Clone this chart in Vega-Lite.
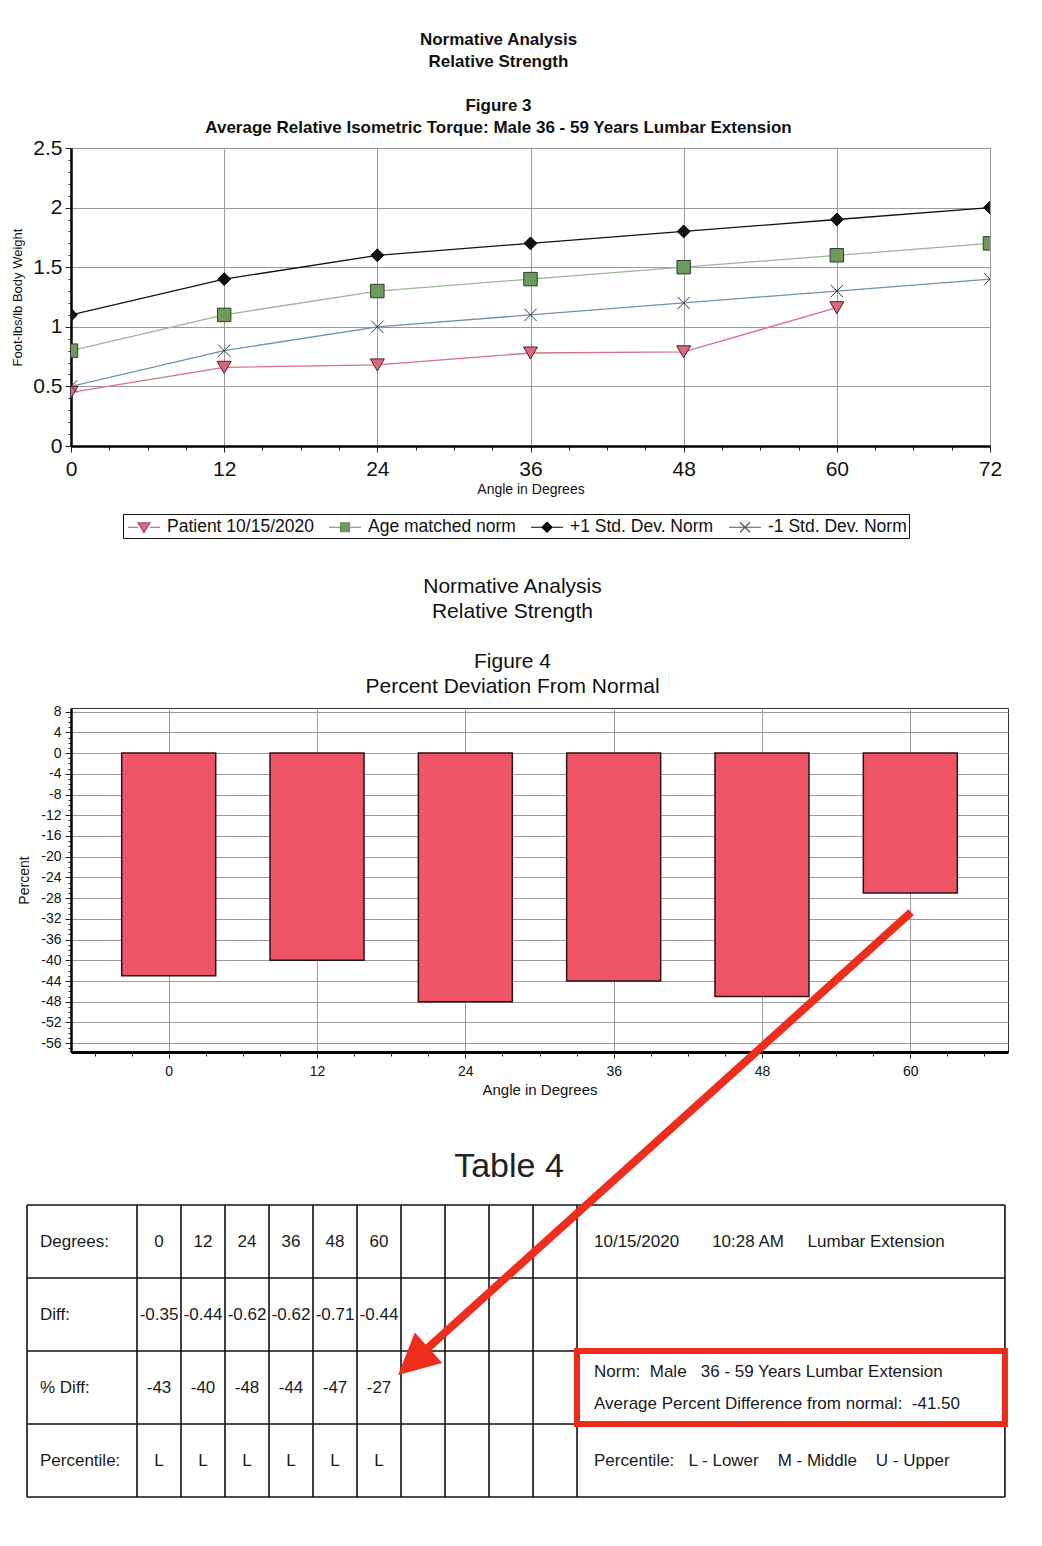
{
  "$schema": "https://vega.github.io/schema/vega-lite/v6.json",
  "background": "white",
  "padding": {"left": 11, "top": 30, "right": 0, "bottom": 0},
  "config": {
    "font": "Liberation Sans",
    "view": {"stroke": null},
    "axis": {"labelFont": "Liberation Sans", "titleFont": "Liberation Sans", "labelColor": "#111", "titleColor": "#111", "tickColor": "#222", "gridColor": "#9a9a9a", "domainColor": "#000", "labelFlush": false, "labelOverlap": false, "titleFontWeight": "normal"},
    "title": {"font": "Liberation Sans", "subtitleFont": "Liberation Sans", "color": "#111", "subtitleColor": "#111"},
    "legend": {"labelFont": "Liberation Sans"}
  },
  "datasets": {
    "torque": [
      {"angle": 0, "series": "Patient 10/15/2020", "value": 0.45},
      {"angle": 12, "series": "Patient 10/15/2020", "value": 0.66},
      {"angle": 24, "series": "Patient 10/15/2020", "value": 0.68},
      {"angle": 36, "series": "Patient 10/15/2020", "value": 0.78},
      {"angle": 48, "series": "Patient 10/15/2020", "value": 0.79},
      {"angle": 60, "series": "Patient 10/15/2020", "value": 1.16},
      {"angle": 0, "series": "Age matched norm", "value": 0.8},
      {"angle": 12, "series": "Age matched norm", "value": 1.1},
      {"angle": 24, "series": "Age matched norm", "value": 1.3},
      {"angle": 36, "series": "Age matched norm", "value": 1.4},
      {"angle": 48, "series": "Age matched norm", "value": 1.5},
      {"angle": 60, "series": "Age matched norm", "value": 1.6},
      {"angle": 72, "series": "Age matched norm", "value": 1.7},
      {"angle": 0, "series": "+1 Std. Dev. Norm", "value": 1.1},
      {"angle": 12, "series": "+1 Std. Dev. Norm", "value": 1.4},
      {"angle": 24, "series": "+1 Std. Dev. Norm", "value": 1.6},
      {"angle": 36, "series": "+1 Std. Dev. Norm", "value": 1.7},
      {"angle": 48, "series": "+1 Std. Dev. Norm", "value": 1.8},
      {"angle": 60, "series": "+1 Std. Dev. Norm", "value": 1.9},
      {"angle": 72, "series": "+1 Std. Dev. Norm", "value": 2.0},
      {"angle": 0, "series": "-1 Std. Dev. Norm", "value": 0.5},
      {"angle": 12, "series": "-1 Std. Dev. Norm", "value": 0.8},
      {"angle": 24, "series": "-1 Std. Dev. Norm", "value": 1.0},
      {"angle": 36, "series": "-1 Std. Dev. Norm", "value": 1.1},
      {"angle": 48, "series": "-1 Std. Dev. Norm", "value": 1.2},
      {"angle": 60, "series": "-1 Std. Dev. Norm", "value": 1.3},
      {"angle": 72, "series": "-1 Std. Dev. Norm", "value": 1.4}
    ],
    "deviation": [
      {"angle": 0, "diff": -0.35, "pct": -43, "pctl": "L"},
      {"angle": 12, "diff": -0.44, "pct": -40, "pctl": "L"},
      {"angle": 24, "diff": -0.62, "pct": -48, "pctl": "L"},
      {"angle": 36, "diff": -0.62, "pct": -44, "pctl": "L"},
      {"angle": 48, "diff": -0.71, "pct": -47, "pctl": "L"},
      {"angle": 60, "diff": -0.44, "pct": -27, "pctl": "L"}
    ],
    "table_rows": [
      {"row": "Degrees:"},
      {"row": "Diff:"},
      {"row": "% Diff:"},
      {"row": "Percentile:"}
    ],
    "table_edges": [
      {"edge": -30}, {"edge": 0}, {"edge": 12}, {"edge": 24}, {"edge": 36}, {"edge": 48},
      {"edge": 60}, {"edge": 72}, {"edge": 84}, {"edge": 96}, {"edge": 108}, {"edge": 120}, {"edge": 236.7}
    ],
    "info": [
      {"row": "Degrees:", "text": "10/15/2020\u00a0\u00a0\u00a0\u00a0\u00a0\u00a0\u00a010:28 AM\u00a0\u00a0\u00a0\u00a0\u00a0Lumbar Extension"},
      {"row": "Percentile:", "text": "Percentile:\u00a0\u00a0\u00a0L - Lower\u00a0\u00a0\u00a0\u00a0M - Middle\u00a0\u00a0\u00a0\u00a0U - Upper"}
    ],
    "norm_note": [
      {"row": "% Diff:", "text": ["Norm:\u00a0\u00a0Male\u00a0\u00a0\u00a036 - 59 Years Lumbar Extension", "Average Percent Difference from normal:\u00a0\u00a0-41.50"]}
    ]
  },
  "spacing": 0,
  "bounds": "flush",
  "vconcat": [
    {
      "width": 919,
      "height": 298,
      "view": {"stroke": "#333", "strokeWidth": 1},
      "title": {
        "text": ["Normative Analysis", "Relative Strength"],
        "subtitle": ["Figure 3", "Average Relative Isometric Torque:  Male 36 - 59 Years Lumbar Extension"],
        "fontSize": 17, "fontWeight": "bold", "lineHeight": 22,
        "subtitleFontSize": 17, "subtitleFontWeight": "bold", "subtitleLineHeight": 22, "subtitlePadding": 27,
        "offset": 0, "dx": -32
      },
      "data": {"name": "torque"},
      "encoding": {
        "x": {
          "field": "angle", "type": "quantitative", "title": "Angle in Degrees",
          "scale": {"domain": [0, 72], "nice": false, "zero": false},
          "axis": {
            "values": [0, 3, 6, 9, 12, 15, 18, 21, 24, 27, 30, 33, 36, 39, 42, 45, 48, 51, 54, 57, 60, 63, 66, 69, 72],
            "labelExpr": "datum.value % 12 === 0 ? datum.label : ''",
            "labelFontSize": 21, "labelPadding": 6,
            "tickSize": {"condition": {"test": "datum.value % 12 === 0", "value": 6}, "value": 4},
            "grid": true,
            "gridOpacity": {"condition": {"test": "datum.value % 12 === 0", "value": 1}, "value": 0},
            "domainWidth": 2.5, "titleFontSize": 14, "titlePadding": 3
          }
        },
        "y": {
          "field": "value", "type": "quantitative", "title": "Foot-lbs/lb Body Weight",
          "scale": {"domain": [0, 2.5], "nice": false},
          "axis": {
            "values": [0, 0.1, 0.2, 0.3, 0.4, 0.5, 0.6, 0.7, 0.8, 0.9, 1, 1.1, 1.2, 1.3, 1.4, 1.5, 1.6, 1.7, 1.8, 1.9, 2, 2.1, 2.2, 2.3, 2.4, 2.5],
            "labelExpr": "abs(datum.value * 2 - round(datum.value * 2)) < 0.001 ? format(datum.value, '~g') : ''",
            "labelFontSize": 21, "labelPadding": 3,
            "tickSize": {"condition": {"test": "abs(datum.value * 2 - round(datum.value * 2)) < 0.001", "value": 6}, "value": 3},
            "grid": true,
            "gridOpacity": {"condition": {"test": "abs(datum.value * 2 - round(datum.value * 2)) < 0.001", "value": 1}, "value": 0},
            "domainWidth": 2.5, "titleFontSize": 13, "titlePadding": 8
          }
        }
      },
      "resolve": {"scale": {"color": "independent", "shape": "independent", "fill": "independent", "stroke": "independent", "size": "independent"}},
      "layer": [
        {
          "mark": {"type": "line", "strokeWidth": 1.3, "clip": true},
          "encoding": {
            "color": {
              "field": "series", "type": "nominal", "legend": null,
              "scale": {
                "domain": ["Patient 10/15/2020", "Age matched norm", "+1 Std. Dev. Norm", "-1 Std. Dev. Norm"],
                "range": ["#d77085", "#9bb596", "#111111", "#7090b0"]
              }
            }
          }
        },
        {
          "mark": {"type": "point", "filled": true, "opacity": 1, "strokeWidth": 1, "clip": true},
          "encoding": {
            "shape": {
              "field": "series", "type": "nominal", "legend": null,
              "scale": {
                "domain": ["Patient 10/15/2020", "Age matched norm", "+1 Std. Dev. Norm", "-1 Std. Dev. Norm"],
                "range": ["triangle-down", "square", "diamond", "M-1,-1L1,1M-1,1L1,-1"]
              }
            },
            "fill": {
              "field": "series", "type": "nominal", "legend": null,
              "scale": {
                "domain": ["Patient 10/15/2020", "Age matched norm", "+1 Std. Dev. Norm", "-1 Std. Dev. Norm"],
                "range": ["#d86a80", "#6d9b5b", "#111111", "transparent"]
              }
            },
            "stroke": {
              "field": "series", "type": "nominal", "legend": null,
              "scale": {
                "domain": ["Patient 10/15/2020", "Age matched norm", "+1 Std. Dev. Norm", "-1 Std. Dev. Norm"],
                "range": ["#5d1d2b", "#2b3f26", "#000000", "#333333"]
              }
            },
            "size": {
              "field": "series", "type": "nominal", "legend": null,
              "scale": {
                "domain": ["Patient 10/15/2020", "Age matched norm", "+1 Std. Dev. Norm", "-1 Std. Dev. Norm"],
                "range": [196, 150, 144, 225]
              }
            }
          }
        },
        {
          "transform": [{"filter": "false"}],
          "mark": {"type": "point", "filled": true, "opacity": 1, "size": 400, "strokeWidth": 1.2},
          "encoding": {
            "shape": {
              "field": "series", "type": "nominal",
              "scale": {
                "domain": ["Patient 10/15/2020", "Age matched norm", "+1 Std. Dev. Norm", "-1 Std. Dev. Norm"],
                "range": ["M-0.8,0H0.2M1.4,0H2.4M0.2,-0.45L1.4,-0.45L0.8,0.55Z", "M-0.8,0H0.35M1.25,0H2.4M0.35,-0.45H1.25V0.45H0.35Z", "M-0.8,0H2.4M0.8,-0.5L1.3,0L0.8,0.5L0.3,0Z", "M-0.8,0H2.4M0.3,-0.5L1.3,0.5M0.3,0.5L1.3,-0.5"]
              },
              "legend": {
                "title": null, "orient": "none", "legendX": 52, "legendY": 366, "direction": "horizontal",
                "fillColor": "white", "strokeColor": "#111", "padding": 2,
                "symbolSize": 400, "symbolStrokeWidth": 1.2, "labelFontSize": 17.5, "labelOffset": 20,
                "columnPadding": 12, "labelColor": "#111", "labelLimit": 300
              }
            },
            "fill": {
              "field": "series", "type": "nominal",
              "scale": {
                "domain": ["Patient 10/15/2020", "Age matched norm", "+1 Std. Dev. Norm", "-1 Std. Dev. Norm"],
                "range": ["#d86a80", "#6d9b5b", "#111111", "transparent"]
              },
              "legend": {
                "title": null, "orient": "none", "legendX": 52, "legendY": 366, "direction": "horizontal",
                "fillColor": "white", "strokeColor": "#111", "padding": 2,
                "symbolSize": 400, "symbolStrokeWidth": 1.2, "labelFontSize": 17.5, "labelOffset": 20,
                "columnPadding": 12, "labelColor": "#111", "labelLimit": 300
              }
            },
            "stroke": {
              "field": "series", "type": "nominal",
              "scale": {
                "domain": ["Patient 10/15/2020", "Age matched norm", "+1 Std. Dev. Norm", "-1 Std. Dev. Norm"],
                "range": ["#a05566", "#6b8a66", "#000000", "#555555"]
              },
              "legend": {
                "title": null, "orient": "none", "legendX": 52, "legendY": 366, "direction": "horizontal",
                "fillColor": "white", "strokeColor": "#111", "padding": 2,
                "symbolSize": 400, "symbolStrokeWidth": 1.2, "labelFontSize": 17.5, "labelOffset": 20,
                "columnPadding": 12, "labelColor": "#111", "labelLimit": 300
              }
            }
          }
        }
      ]
    },
    {
      "width": 10,
      "height": 262,
      "data": {"values": []},
      "mark": "point",
      "encoding": {}
    },
    {
      "width": 937,
      "height": 344,
      "view": {"stroke": "#333", "strokeWidth": 1},
      "title": {
        "text": ["Normative Analysis", "Relative Strength"],
        "subtitle": ["Figure 4", "Percent Deviation From Normal"],
        "fontSize": 21, "fontWeight": "normal", "lineHeight": 25,
        "subtitleFontSize": 21, "subtitleFontWeight": "normal", "subtitleLineHeight": 25, "subtitlePadding": 29,
        "offset": 8, "dx": -27
      },
      "data": {"name": "deviation"},
      "mark": {"type": "bar", "width": 94, "fill": "#ef5567", "stroke": "#2a1515", "strokeWidth": 1.5},
      "encoding": {
        "x": {
          "field": "angle", "type": "quantitative", "title": "Angle in Degrees",
          "scale": {"domain": [-7.5, 67.5], "nice": false, "zero": false},
          "axis": {
            "values": [-6, -3, 0, 3, 6, 9, 12, 15, 18, 21, 24, 27, 30, 33, 36, 39, 42, 45, 48, 51, 54, 57, 60, 63, 66],
            "labelExpr": "datum.value % 12 === 0 ? datum.label : ''",
            "labelFontSize": 14, "labelPadding": 6,
            "tickSize": {"condition": {"test": "datum.value % 12 === 0", "value": 6}, "value": 4},
            "grid": true,
            "gridOpacity": {"condition": {"test": "datum.value % 12 === 0", "value": 1}, "value": 0},
            "domainWidth": 3, "titleFontSize": 15, "titlePadding": 4
          }
        },
        "y": {
          "field": "pct", "type": "quantitative", "title": "Percent",
          "scale": {"domain": [-57.7, 8.7], "nice": false},
          "axis": {
            "values": [-57, -56, -55, -54, -53, -52, -51, -50, -49, -48, -47, -46, -45, -44, -43, -42, -41, -40, -39, -38, -37, -36, -35, -34, -33, -32, -31, -30, -29, -28, -27, -26, -25, -24, -23, -22, -21, -20, -19, -18, -17, -16, -15, -14, -13, -12, -11, -10, -9, -8, -7, -6, -5, -4, -3, -2, -1, 0, 1, 2, 3, 4, 5, 6, 7, 8],
            "labelExpr": "datum.value % 4 === 0 ? '' + datum.value : ''",
            "labelFontSize": 14, "labelPadding": 4,
            "tickSize": {"condition": {"test": "datum.value % 4 === 0", "value": 6}, "value": 3},
            "grid": true,
            "gridOpacity": {"condition": {"test": "datum.value % 4 === 0", "value": 1}, "value": 0},
            "domainWidth": 2.5, "titleFontSize": 14, "titlePadding": 9
          }
        }
      }
    },
    {
      "width": 10,
      "height": 153,
      "data": {"values": []},
      "mark": "point",
      "encoding": {}
    },
    {
      "width": 876,
      "height": 292,
      "resolve": {"scale": {"y": "independent"}},
      "layer": [
        {
          "layer": [
            {
              "data": {"name": "table_edges"},
              "mark": {"type": "rule", "color": "#111", "strokeWidth": 1.6},
              "encoding": {
                "x": {"field": "edge", "type": "quantitative", "scale": {"domain": [-18, 220.9], "nice": false, "zero": false}, "axis": null}
              }
            },
            {
              "data": {"name": "table_rows"},
              "mark": {"type": "rule", "color": "#111", "strokeWidth": 1.6},
              "encoding": {
                "y": {"field": "row", "type": "nominal", "bandPosition": 0, "axis": null,
                      "scale": {"type": "band", "domain": ["Degrees:", "Diff:", "% Diff:", "Percentile:"], "paddingInner": 0, "paddingOuter": 0}},
                "x": {"datum": -30, "scale": {"domain": [-18, 220.9], "nice": false, "zero": false}, "axis": null},
                "x2": {"datum": 120}
              }
            },
            {
              "data": {"name": "table_rows"},
              "transform": [{"filter": {"field": "row", "oneOf": ["Degrees:", "Diff:"]}}],
              "mark": {"type": "rule", "color": "#111", "strokeWidth": 1.6},
              "encoding": {
                "y": {"field": "row", "type": "nominal", "bandPosition": 0, "axis": null,
                      "scale": {"type": "band", "domain": ["Degrees:", "Diff:", "% Diff:", "Percentile:"], "paddingInner": 0, "paddingOuter": 0}},
                "x": {"datum": 120, "scale": {"domain": [-18, 220.9], "nice": false, "zero": false}, "axis": null},
                "x2": {"datum": 236.7}
              }
            },
            {
              "data": {"name": "table_rows"},
              "transform": [{"filter": {"field": "row", "equal": "Percentile:"}}],
              "mark": {"type": "rule", "color": "#111", "strokeWidth": 1.6},
              "encoding": {
                "y": {"field": "row", "type": "nominal", "bandPosition": 1, "axis": null,
                      "scale": {"type": "band", "domain": ["Degrees:", "Diff:", "% Diff:", "Percentile:"], "paddingInner": 0, "paddingOuter": 0}},
                "x": {"datum": -30, "scale": {"domain": [-18, 220.9], "nice": false, "zero": false}, "axis": null},
                "x2": {"datum": 236.7}
              }
            },
            {
              "data": {"name": "table_rows"},
              "mark": {"type": "text", "align": "left", "baseline": "middle", "dx": 13, "fontSize": 17, "color": "#1a1a1a"},
              "encoding": {
                "y": {"field": "row", "type": "nominal", "bandPosition": 0.5, "axis": null,
                      "scale": {"type": "band", "domain": ["Degrees:", "Diff:", "% Diff:", "Percentile:"], "paddingInner": 0, "paddingOuter": 0}},
                "x": {"datum": -30, "scale": {"domain": [-18, 220.9], "nice": false, "zero": false}, "axis": null},
                "text": {"field": "row"}
              }
            },
            {
              "data": {"name": "deviation"},
              "mark": {"type": "text", "align": "center", "baseline": "middle", "dx": 22, "fontSize": 17, "color": "#1a1a1a"},
              "encoding": {
                "y": {"datum": "Degrees:", "type": "nominal", "bandPosition": 0.5, "axis": null,
                      "scale": {"type": "band", "domain": ["Degrees:", "Diff:", "% Diff:", "Percentile:"], "paddingInner": 0, "paddingOuter": 0}},
                "x": {"field": "angle", "type": "quantitative", "scale": {"domain": [-18, 220.9], "nice": false, "zero": false}, "axis": null},
                "text": {"field": "angle", "type": "nominal"}
              }
            },
            {
              "data": {"name": "deviation"},
              "mark": {"type": "text", "align": "center", "baseline": "middle", "dx": 22, "fontSize": 17, "color": "#1a1a1a"},
              "encoding": {
                "y": {"datum": "Diff:", "type": "nominal", "bandPosition": 0.5, "axis": null,
                      "scale": {"type": "band", "domain": ["Degrees:", "Diff:", "% Diff:", "Percentile:"], "paddingInner": 0, "paddingOuter": 0}},
                "x": {"field": "angle", "type": "quantitative", "scale": {"domain": [-18, 220.9], "nice": false, "zero": false}, "axis": null},
                "text": {"field": "diff", "type": "nominal"}
              }
            },
            {
              "data": {"name": "deviation"},
              "mark": {"type": "text", "align": "center", "baseline": "middle", "dx": 22, "fontSize": 17, "color": "#1a1a1a"},
              "encoding": {
                "y": {"datum": "% Diff:", "type": "nominal", "bandPosition": 0.5, "axis": null,
                      "scale": {"type": "band", "domain": ["Degrees:", "Diff:", "% Diff:", "Percentile:"], "paddingInner": 0, "paddingOuter": 0}},
                "x": {"field": "angle", "type": "quantitative", "scale": {"domain": [-18, 220.9], "nice": false, "zero": false}, "axis": null},
                "text": {"field": "pct", "type": "nominal"}
              }
            },
            {
              "data": {"name": "deviation"},
              "mark": {"type": "text", "align": "center", "baseline": "middle", "dx": 22, "fontSize": 17, "color": "#1a1a1a"},
              "encoding": {
                "y": {"datum": "Percentile:", "type": "nominal", "bandPosition": 0.5, "axis": null,
                      "scale": {"type": "band", "domain": ["Degrees:", "Diff:", "% Diff:", "Percentile:"], "paddingInner": 0, "paddingOuter": 0}},
                "x": {"field": "angle", "type": "quantitative", "scale": {"domain": [-18, 220.9], "nice": false, "zero": false}, "axis": null},
                "text": {"field": "pctl"}
              }
            },
            {
              "data": {"name": "info"},
              "mark": {"type": "text", "align": "left", "baseline": "middle", "dx": 17, "fontSize": 17, "color": "#1a1a1a"},
              "encoding": {
                "y": {"field": "row", "type": "nominal", "bandPosition": 0.5, "axis": null,
                      "scale": {"type": "band", "domain": ["Degrees:", "Diff:", "% Diff:", "Percentile:"], "paddingInner": 0, "paddingOuter": 0}},
                "x": {"datum": 120, "scale": {"domain": [-18, 220.9], "nice": false, "zero": false}, "axis": null},
                "text": {"field": "text"}
              }
            },
            {
              "data": {"name": "norm_note"},
              "mark": {"type": "text", "align": "left", "baseline": "middle", "dx": 17, "dy": -16, "fontSize": 17, "lineHeight": 32, "color": "#1a1a1a"},
              "encoding": {
                "y": {"field": "row", "type": "nominal", "bandPosition": 0.5, "axis": null,
                      "scale": {"type": "band", "domain": ["Degrees:", "Diff:", "% Diff:", "Percentile:"], "paddingInner": 0, "paddingOuter": 0}},
                "x": {"datum": 120, "scale": {"domain": [-18, 220.9], "nice": false, "zero": false}, "axis": null},
                "text": {"field": "text"}
              }
            },
            {
              "data": {"name": "table_rows"},
              "transform": [{"filter": {"field": "row", "equal": "% Diff:"}}],
              "mark": {"type": "rect", "filled": false, "stroke": "#ee2a1a", "strokeWidth": 6, "opacity": 1},
              "encoding": {
                "y": {"field": "row", "type": "nominal", "axis": null,
                      "scale": {"type": "band", "domain": ["Degrees:", "Diff:", "% Diff:", "Percentile:"], "paddingInner": 0, "paddingOuter": 0}},
                "x": {"datum": 120, "scale": {"domain": [-18, 220.9], "nice": false, "zero": false}, "axis": null},
                "x2": {"datum": 236.7}
              }
            }
          ]
        },
        {
          "data": {"values": [{}]},
          "layer": [
            {
              "mark": {"type": "text", "text": "Table 4", "fontSize": 34, "color": "#222", "align": "center", "baseline": "middle"},
              "encoding": {
                "x": {"datum": 101.45, "scale": {"domain": [-18, 220.9], "nice": false, "zero": false}, "axis": null},
                "y": {"datum": -0.52, "scale": {"domain": [0, 4], "reverse": true, "nice": false, "zero": false}, "axis": null}
              }
            },
            {
              "mark": {"type": "rule", "color": "#ee2d1c", "strokeWidth": 8, "strokeCap": "butt"},
              "encoding": {
                "x": {"datum": 211.1, "scale": {"domain": [-18, 220.9], "nice": false, "zero": false}, "axis": null},
                "x2": {"datum": 77.5},
                "y": {"datum": -4.01, "scale": {"domain": [0, 4], "reverse": true, "nice": false, "zero": false}, "axis": null},
                "y2": {"datum": 2.04}
              }
            },
            {
              "mark": {"type": "point", "shape": "M0,0L-0.5,1L0.5,1Z", "filled": true, "color": "#ee2d1c", "size": 6724, "angle": 228, "opacity": 1},
              "encoding": {
                "x": {"datum": 71.2, "scale": {"domain": [-18, 220.9], "nice": false, "zero": false}, "axis": null},
                "y": {"datum": 2.33, "scale": {"domain": [0, 4], "reverse": true, "nice": false, "zero": false}, "axis": null}
              }
            }
          ]
        }
      ]
    }
  ]
}
